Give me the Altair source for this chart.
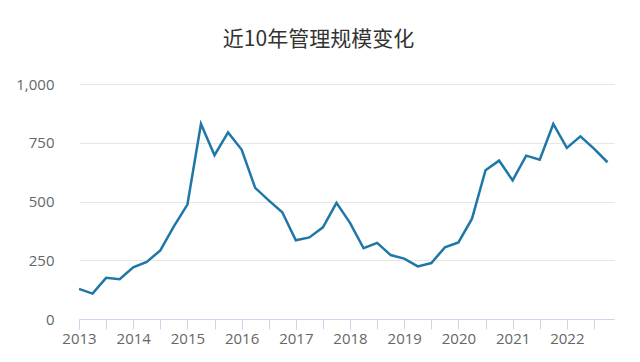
import altair as alt
import pandas as pd

years = list(range(2013, 2023))
quarters = [0.0, 0.25, 0.5, 0.75]
values = [
    128, 108, 175, 169,
    220, 243, 292, 394,
    487, 830, 697, 794,
    721, 558, 505, 454,
    335, 347, 390, 494,
    409, 301, 324, 272,
    257, 224, 238, 305,
    326, 427, 633, 674,
    590, 695, 678, 830,
    728, 777, 725, 667,
]
t = [y + q for y in years for q in quarters]
df = pd.DataFrame({"t": t, "v": values})

x_ticks = [2013 + 0.5 * i for i in range(20)]
y_ticks = [0, 250, 500, 750, 1000]

font = "Noto Sans CJK SC"
label_font = "Open Sans"

chart = alt.Chart(df).mark_line(color="#1f77a8", strokeWidth=2.5).encode(
    x=alt.X("t:Q", scale=alt.Scale(domain=[2013, 2022.87], nice=False, zero=False),
            axis=alt.Axis(title=None, values=x_ticks, grid=False,
                          labelExpr="datum.value % 1 == 0 ? datum.value : ''",
                          tickColor="#ccd6eb", domainColor="#ccd6eb", tickSize=10,
                          labelPadding=2, labelFontSize=15, labelColor="#666666",
                          labelFont=label_font, labelOverlap=False, labelFlush=False)),
    y=alt.Y("v:Q", scale=alt.Scale(domain=[0, 1000], nice=False),
            axis=alt.Axis(title=None, values=y_ticks, format=",d", domain=False, ticks=False,
                          gridColor="#e6e6e6", labelPadding=25, labelFontSize=15,
                          labelColor="#666666", labelFont=label_font)),
).properties(
    width=535, height=235,
    autosize=alt.AutoSizeParams(type="none"),
    padding={"left": 71, "top": 76, "right": 18, "bottom": 35},
    title=alt.TitleParams("近10年管理规模变化", fontSize=21, font=font, fontWeight="normal",
                          color="#333333", offset=27, dx=-28),
).configure_view(stroke=None)

chart.save("out.html", embed_options={"renderer": "svg", "actions": False})
